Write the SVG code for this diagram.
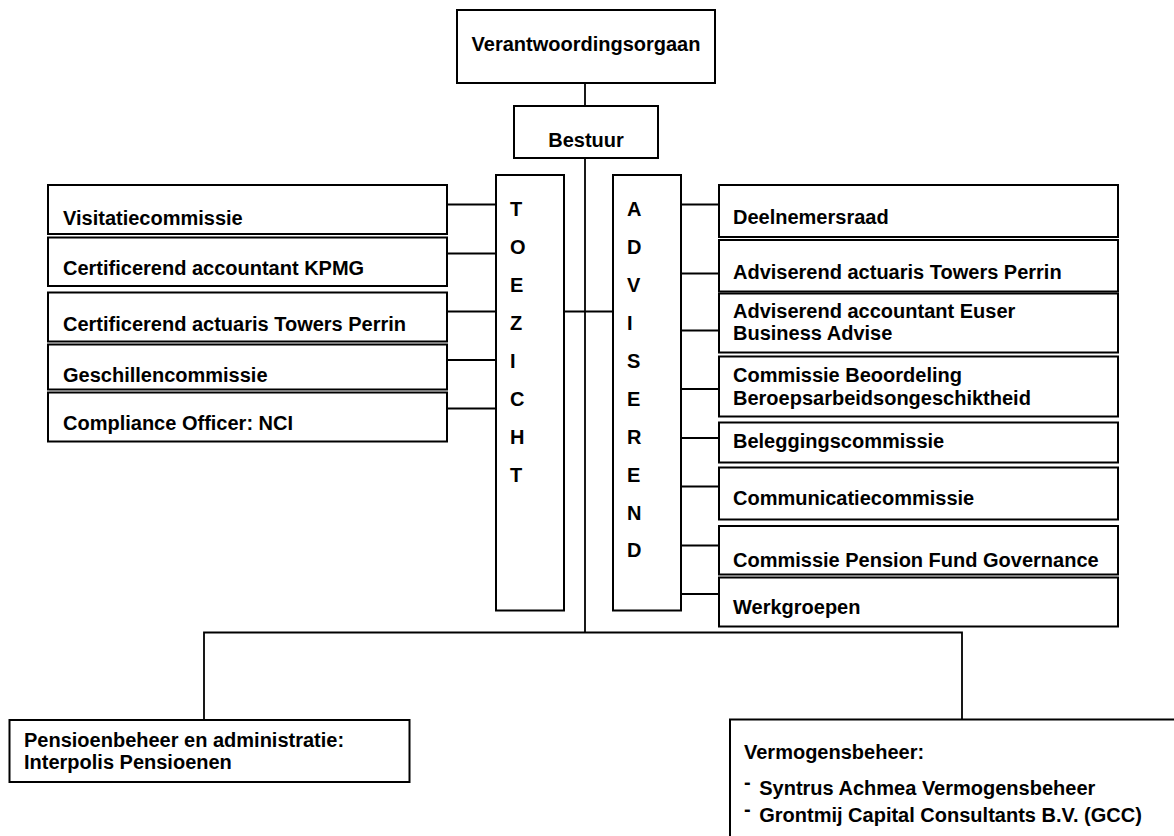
<svg xmlns="http://www.w3.org/2000/svg" width="1174" height="836" viewBox="0 0 1174 836">
<style>
  .box{fill:#fff;stroke:#000;stroke-width:2}
  .con{fill:none;stroke:#000;stroke-width:1.8}
  text{font-family:"Liberation Sans",Arial,sans-serif;font-weight:bold;font-size:20px;fill:#000}
  .c{text-anchor:middle}
</style>
<rect width="1174" height="836" fill="#fff"/>
<g id="connectors">
  <path class="con" d="M585 83V106"/>
  <path class="con" d="M585 158V632.5"/>
  <path class="con" d="M204 720V632.5H962V719.5"/>
  <path class="con" d="M447 204.5H496M447 253.5H496M447 311.5H496M447 360H496M447 408.5H496"/>
  <path class="con" d="M564 311.5H613"/>
  <path class="con" d="M681 204.5H719M681 273.5H719M681 330.5H719M681 389H719M681 438H719M681 486.5H719M681 545.5H719M681 594H719"/>
</g>
<g id="verantwoordingsorgaan">
  <rect class="box" x="457" y="10" width="258" height="73"/>
  <text class="c" x="586" y="51">Verantwoordingsorgaan</text>
</g>
<g id="bestuur">
  <rect class="box" x="514" y="106" width="144" height="52"/>
  <text class="c" x="586" y="147">Bestuur</text>
</g>
<g id="visitatiecommissie">
  <rect class="box" x="48" y="185" width="399" height="49"/>
  <text x="63" y="225">Visitatiecommissie</text>
</g>
<g id="kpmg">
  <rect class="box" x="48" y="237.5" width="399" height="48.5"/>
  <text x="63" y="275">Certificerend accountant KPMG</text>
</g>
<g id="cert-actuaris">
  <rect class="box" x="48" y="292.5" width="399" height="49"/>
  <text x="63" y="331">Certificerend actuaris Towers Perrin</text>
</g>
<g id="geschillencommissie">
  <rect class="box" x="48" y="344.5" width="399" height="45"/>
  <text x="63" y="382">Geschillencommissie</text>
</g>
<g id="compliance">
  <rect class="box" x="48" y="392.5" width="399" height="49"/>
  <text x="63" y="429.5">Compliance Officer: NCI</text>
</g>
<g id="toezicht">
  <rect class="box" x="496" y="175" width="68" height="435.5"/>
  <text x="510" y="216">T</text>
  <text x="510" y="254">O</text>
  <text x="510" y="292">E</text>
  <text x="510" y="330">Z</text>
  <text x="510" y="368">I</text>
  <text x="510" y="406">C</text>
  <text x="510" y="444">H</text>
  <text x="510" y="482">T</text>
</g>
<g id="adviserend">
  <rect class="box" x="613" y="175" width="68" height="435.5"/>
  <text x="627" y="216">A</text>
  <text x="627" y="254">D</text>
  <text x="627" y="292">V</text>
  <text x="627" y="330">I</text>
  <text x="627" y="367.5">S</text>
  <text x="627" y="405.5">E</text>
  <text x="627" y="443.5">R</text>
  <text x="627" y="482">E</text>
  <text x="627" y="520">N</text>
  <text x="627" y="557">D</text>
</g>
<g id="deelnemersraad">
  <rect class="box" x="719" y="185" width="399" height="52"/>
  <text x="733" y="224">Deelnemersraad</text>
</g>
<g id="adv-actuaris">
  <rect class="box" x="719" y="240" width="399" height="51.5"/>
  <text x="733" y="279">Adviserend actuaris Towers Perrin</text>
</g>
<g id="adv-accountant">
  <rect class="box" x="719" y="293.5" width="399" height="59"/>
  <text x="733" y="317.5">Adviserend accountant Euser</text>
  <text x="733" y="340">Business Advise</text>
</g>
<g id="beoordeling">
  <rect class="box" x="719" y="356.5" width="399" height="60"/>
  <text x="733" y="381.5">Commissie Beoordeling</text>
  <text x="733" y="404.5">Beroepsarbeidsongeschiktheid</text>
</g>
<g id="beleggingscommissie">
  <rect class="box" x="719" y="422.5" width="399" height="40"/>
  <text x="733" y="447.5">Beleggingscommissie</text>
</g>
<g id="communicatiecommissie">
  <rect class="box" x="719" y="467.5" width="399" height="52"/>
  <text x="733" y="505">Communicatiecommissie</text>
</g>
<g id="pension-fund-governance">
  <rect class="box" x="719" y="526" width="399" height="48.5"/>
  <text x="733" y="566.5">Commissie Pension Fund Governance</text>
</g>
<g id="werkgroepen">
  <rect class="box" x="719" y="577.5" width="399" height="49"/>
  <text x="733" y="614">Werkgroepen</text>
</g>
<g id="pensioenbeheer">
  <rect class="box" x="9.5" y="720" width="400" height="62"/>
  <text x="24" y="747">Pensioenbeheer en administratie:</text>
  <text x="24" y="768.5">Interpolis Pensioenen</text>
</g>
<g id="vermogensbeheer">
  <rect class="box" x="730" y="719.5" width="460" height="140"/>
  <text x="744" y="758.5">Vermogensbeheer:</text>
  <text x="744" y="795"><tspan dy="-6">-</tspan><tspan dy="6" dx="3"> Syntrus Achmea Vermogensbeheer</tspan></text>
  <text x="744" y="821.5"><tspan dy="-6">-</tspan><tspan dy="6" dx="3"> Grontmij Capital Consultants B.V. (GCC)</tspan></text>
</g>
</svg>
